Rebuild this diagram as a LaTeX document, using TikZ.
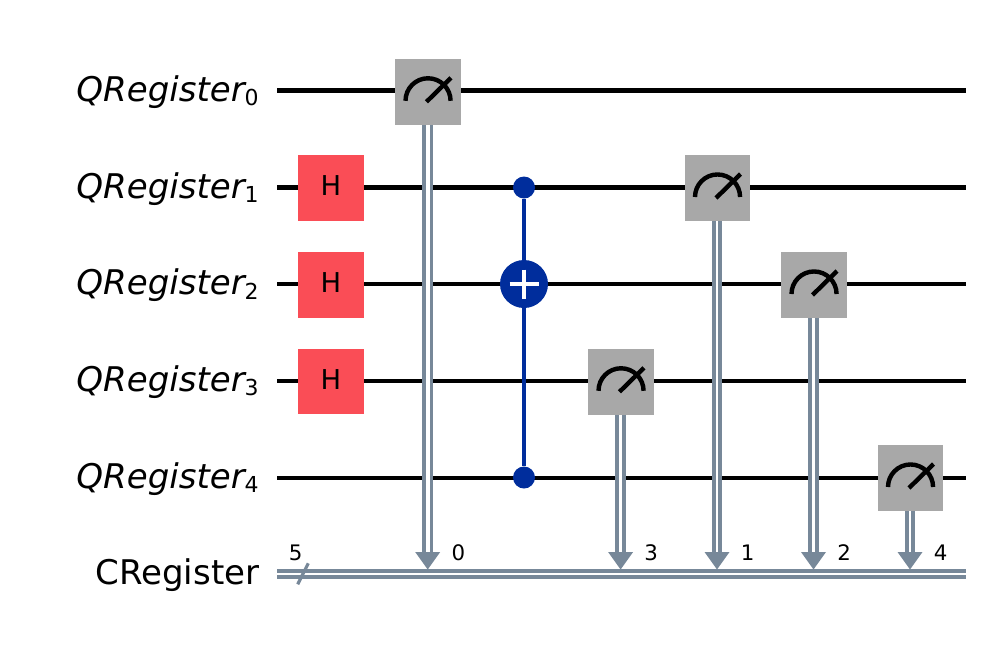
\documentclass[tikz,border=0pt]{standalone}
\usepackage{fontspec}
\setmainfont{DejaVu Sans}
\usetikzlibrary{calc}
\definecolor{qwire}{HTML}{000000}
\definecolor{cwire}{HTML}{778899}
\definecolor{hgate}{HTML}{FA4D56}
\definecolor{mgate}{HTML}{A8A8A8}
\definecolor{cxcol}{HTML}{002D9C}
\newcommand{\qlab}[1]{\fontsize{25.5}{25}\selectfont{\itshape QRegister}\raisebox{-3.3pt}{\fontsize{16.5}{17}\selectfont #1}}
\tikzset{
  x=0.75pt,y=-0.75pt,
  qline/.style={draw=qwire,line width=3.4pt},
  cline/.style={draw=cwire,line width=2.9pt,double=white,double distance=1.6pt},
  mline/.style={draw=cwire,line width=2.9pt,double=white},
  hbox/.style={fill=hgate,draw=none,minimum width=49.4pt,minimum height=49.4pt,inner sep=0pt},
  hlab/.style={inner sep=0pt,font=\fontsize{20.5}{20}\selectfont},
  mbox/.style={fill=mgate,draw=none,minimum width=49.2pt,minimum height=49.2pt,inner sep=0pt},
  cdot/.style={circle,fill=cxcol,draw=none,minimum size=16.5pt,inner sep=0pt},
  tdot/.style={circle,fill=cxcol,draw=none,minimum size=36pt,inner sep=0pt},
  reglab/.style={anchor=base east,inner sep=0pt},
  biglab/.style={anchor=base east,inner sep=0pt,font=\fontsize{25.5}{25}\selectfont},
  smalllab/.style={inner sep=0pt,font=\fontsize{16}{16}\selectfont},
  dial/.style={line width=3.3pt,draw=black}
}
\newcommand{\meter}[1]{%
  \draw[dial] ($(#1)+(-22.5,9)$) arc[start angle=180,end angle=0,radius=16.9pt];
  \draw[dial] ($(#1)+(-1.5,10)$) -- ($(#1)+(23,-14)$);
}
\newcommand{\measure}[7]{% name, x, y, arrow name, label, line x, gap
  \node[mbox] (#1) at (#2,#3) {};
  \meter{#1}
  \coordinate (#4) at (#6,556);
  \draw[mline,double distance=#7] (#1.south -| #4) -- (#4);
  \fill[cwire] (#6-12.5,552) -- (#6+12.5,552) -- (#6,569.5) -- cycle;
  \node[smalllab] (#4t) at (#6+30.6,553) {#5};
}
\begin{document}
\begin{tikzpicture}
\useasboundingbox (0,0) rectangle (988,647);
% wires
\foreach \n/\y in {0/90.7,1/187.5,2/284,3/381,4/478}{
  \coordinate (s\n) at (277,\y);
  \coordinate (e\n) at (966,\y);
  \draw[qline] (s\n) -- (e\n);
}
\coordinate (cs) at (277,573.8);
\coordinate (ce) at (966,573.8);
\draw[cline] (cs) -- (ce);
% register labels
\node[reglab] (l0) at (259,101.2) {\qlab{0}};
\node[reglab] (l1) at (259,198) {\qlab{1}};
\node[reglab] (l2) at (259,294.7) {\qlab{2}};
\node[reglab] (l3) at (259,391.5) {\qlab{3}};
\node[reglab] (l4) at (259,488.4) {\qlab{4}};
\node[biglab] (lc) at (259.5,584) {CRegister};
% bus slash
\coordinate (sl1) at (297.7,584.3);
\coordinate (sl2) at (308.3,563.3);
\draw[draw=cwire,line width=2.4pt] (sl1) -- (sl2);
\node[smalllab] (bus) at (295.7,553) {5};
% H gates
\node[hbox] (h1) at (331,188) {};
\node[hbox] (h2) at (331,284.8) {};
\node[hbox] (h3) at (331,381.5) {};
\node[hlab] (h1t) at (331,186) {H};
\node[hlab] (h2t) at (331,282.8) {H};
\node[hlab] (h3t) at (331,379.5) {H};
% CX gates
\node[cdot] (c1) at (524,187.5) {};
\node[cdot] (c2) at (524,477.5) {};
\node[tdot] (t) at (524,284) {};
\draw[draw=cxcol,line width=3pt] (c1) -- (t);
\draw[draw=cxcol,line width=3pt] (t) -- (c2);
\draw[draw=white,line width=3.7pt] ($(t)+(-14.5,0)$) -- ($(t)+(14.5,0)$);
\draw[draw=white,line width=3.7pt] ($(t)+(0,-14.5)$) -- ($(t)+(0,14.5)$);
% measurements
\measure{m0}{428}{91.8}{a0}{0}{427.7}{2.8pt}
\measure{m3}{621}{381.8}{a3}{3}{620.6}{2.5pt}
\measure{m1}{717.5}{188}{a1}{1}{717}{1.5pt}
\measure{m2}{814}{285}{a2}{2}{813.5}{2.25pt}
\measure{m4}{910.5}{478}{a4}{4}{910}{1.5pt}
\end{tikzpicture}
\end{document}
